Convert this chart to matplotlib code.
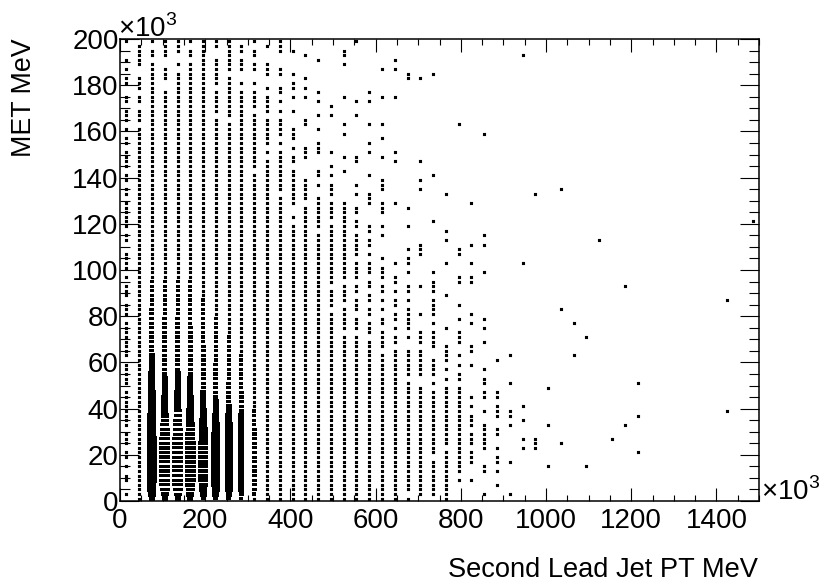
import matplotlib
matplotlib.use("Agg")
from matplotlib import pyplot as plt
from matplotlib.ticker import MultipleLocator

plt.rcParams['font.family'] = ['Liberation Sans', 'DejaVu Sans']
plt.rcParams['mathtext.fontset'] = 'custom'
plt.rcParams['mathtext.rm'] = 'Liberation Sans'

x_tick_labels = ["0", "200", "400", "600", "800", "1000", "1200", "1400"]
y_tick_labels = ["0", "20", "40", "60", "80", "100", "120", "140", "160", "180", "200"]

# occupied MET bins per jet pt column, counted down from the top (bin 0 = 199)
column_bins = [
    "0 4 6 8 9 12 13 15-17 19 21 22 24-27 29 30 32 33 35-40 42 43 46-49 51 53-55 57-59 61-68 70-74 76-83 85-87 89 90 92 94 95 98",
    "1-5 8-10 12 13 15-17 19-99",
    "0 2 3 5-99",
    "0-3 6-8 11-99",
    "0-2 5 7-99",
    "0 2 3 5-99",
    "0-99",
    "0 1 4-9 11-15 17-99",
    "0-6 8-16 18-99",
    "1 2 4-6 9 11-99",
    "0 2 3 5 6 9 11-14 16-27 29-99",
    "1 5-7 10 12-15 17-22 24 26-99",
    "0-2 6 7 10 11 13 15 17-20 22 24-32 34-99",
    "2 7 9 10 12 15 19-21 23 25 26 28-35 38 40-99",
    "3 8 10 12 17 18 23-25 30-34 36-99",
    "4 11 13 16 19 22-24 28 29 31 34-40 42-99",
    "14 16 24 27 29 31-33 35-38 40-52 54-57 59-99",
    "2 3 5 12 18 20 25 28 35-51 53-56 58-62 64-99",
    "0 13 16 25 26 31 33 36 37 39 40 42-46 48-51 53 54 56-58 60-62 64-99",
    "11 13 18 22 24 29 33-35 40 41 43 44 46 48-50 52 53 55 56 58 59 61-63 65-99",
    "6 12 18 21 25 30-32 35-37 40 42 47 49-51 53 54 56 58 60 61 63-66 68-99",
    "4 6 12 24 26 35 48 51 52 54 56 57 59 60 62 64 65 67-99",
    "7 8 36 40 45 47 48 50 53 54 56 58-62 64 67-72 74-97 99",
    "8 26 30 32 44-46 53 59 63-65 67-72 75-98",
    "7 29 39 50 52-54 56-59 61 63-66 69-72 74 76-89 91-98",
    "33 41 43 48 55 62 66-69 71 73 75-87 89-99",
    "18 45 46 51 52 57 60 63-65 68 70 72 73 75-93 95",
    "35 44 48 51 52 59 61 66 67 70 77 79 81-83 85-87 89-91 95",
    "20 42 44 50 60 62 65 71 73 74 76 77 80 83-88 92 93 98",
    "69 76 77 79-81 84 85 88 90 91 93 96",
    "68 74 80 81 83 91 98",
    "3 48 79 82 86 88",
    "33 86-88",
    "75 83 92",
    "32 58 87",
    "61 68",
    "64 92",
    "43",
    "86",
    "53 83",
    "74 81 89",
    "", "", "", "", "", "",
    "56 80",
    "",
    "39",
]

# blob widths in px for the crowded columns, bottom bin first (MET 1, 3, 5 ...)
blob_widths = {
    2: [6,8,9,9,10,10,10,10,10,10,10,10,10,10,9,9,9,9,9,8,8,8,8,8,7,7,7,7,6,6,6,6,5,5,5,5,5,5,5,5,5,5,4,4,4,4,4,4],
    3: [6,8,10,11,11,11,11,11,11,11,11,11,11,11,10,10,9,8,8,7,7,7,7,6,6,6,6,5,5,5,5,5,5,5,5,5,5,5,5,5,4,4,4,4,4,4,4,4],
    4: [6,8,10,11,11,11,11,11,11,11,11,11,11,11,10,10,9,9,8,8,7,7,7,7,6,6,6,6,5,5,5,5,5,5,5,5,5,5,5,5,4,4,4,4,4,4,4,4],
    5: [6,8,9,10,11,11,11,11,11,11,11,11,11,10,10,9,9,8,8,8,7,7,7,6,6,6,6,5,5,5,5,5,5,5,5,5,5,5,4,4,4,4,4,4,4,4,4,4],
    6: [5,7,8,9,10,10,10,10,10,10,10,10,10,9,9,9,8,8,7,7,6,6,6,6,5,5,5,5,5,5,5,5,5,5,4,4,4,4,4,4,4,4,4,4],
    7: [5,7,8,9,9,9,9,9,9,9,9,9,9,9,9,8,8,7,7,6,6,6,5,5,5,5,5,5,5,5,4,4,4,4,4,4,4,4,4,4],
    8: [5,6,8,8,8,8,8,8,8,8,8,8,8,8,8,8,8,7,7,6,6,5,5,5,5,5,4,4,4,4,4,4,4,4,4,4],
    9: [4,5,6,6,6,6,6,6,6,6,6,6,6,6,6,6,6,6,6,5,5,5,5,5,4,4,4,4,4,4,4,4],
    10: [3,4,5,5,5,5,5,5,5,5,5,5,5,5,5,5,4,4,4,4],
}
# bins where the reference shows white lines through the blob: (first, last, height px)
blob_stripes = {3: (1, 17, 3.3), 4: (1, 19, 3.0), 5: (2, 15, 3.6), 6: (3, 12, 3.9)}

PX_X = 639 / 1500
PX_Y = 462 / 200

fig = plt.figure(figsize=(8.22, 5.87), dpi=100)
ax = fig.add_axes([120 / 822, 1 - 501 / 587, 639 / 822, 462 / 587])

xs = []
ys = []
for k, spec in enumerate(column_bins):
    x = 15 + 30 * k
    for part in spec.split():
        if "-" in part:
            lo, hi = part.split("-")
        else:
            lo, hi = part, part
        for r in range(int(lo), int(hi) + 1):
            met = 199 - 2 * r
            b = (met - 1) // 2
            w = blob_widths.get(k, [])
            if b < len(w) and w[b] > 3:
                h = 5 if w[b] >= 6 else 3.2
                if k in blob_stripes:
                    first, last, sh = blob_stripes[k]
                    if first <= b <= last:
                        h = sh
                ax.bar(x, h / PX_Y, width=w[b] / PX_X, bottom=met - h / PX_Y / 2,
                       color="black", linewidth=0)
            else:
                xs.append(x)
                ys.append(met)

ax.scatter(xs, ys, marker="s", s=5.0, color="black", linewidths=0, snap=False)

ax.set_xlim(0, 1500)
ax.set_ylim(0, 200)
ax.xaxis.set_minor_locator(MultipleLocator(50))
ax.yaxis.set_minor_locator(MultipleLocator(5))
ax.set_xticks(range(0, 1500, 200), x_tick_labels)
ax.set_yticks(range(0, 201, 20), y_tick_labels)

ax.tick_params(axis="x", which="major", direction="in", top=True, length=9.4, width=0.8,
               labelsize=20, pad=5)
ax.tick_params(axis="x", which="minor", direction="in", top=True, length=4.5, width=0.8)
ax.tick_params(axis="y", which="major", direction="in", right=True, length=14, width=0.8,
               labelsize=20, pad=1)
ax.tick_params(axis="y", which="minor", direction="in", right=True, length=7, width=0.8)
for s in ax.spines.values():
    s.set_linewidth(1.1)

fig.text(758 / 822, 1 - 577 / 587, "Second Lead Jet PT MeV", fontsize=19.6, ha="right", va="baseline")
fig.text(37 / 822, 1 - 38 / 587, "MET MeV", fontsize=19.3, rotation=90, ha="right", va="top")
fig.text(118 / 822, 1 - 37 / 587, r"$\times$10$^{3}$", fontsize=20, ha="left", va="baseline")
fig.text(761 / 822, 1 - 500 / 587, r"$\times$10$^{3}$", fontsize=20, ha="left", va="baseline")

fig.savefig("out.png", dpi=100, facecolor="white")
